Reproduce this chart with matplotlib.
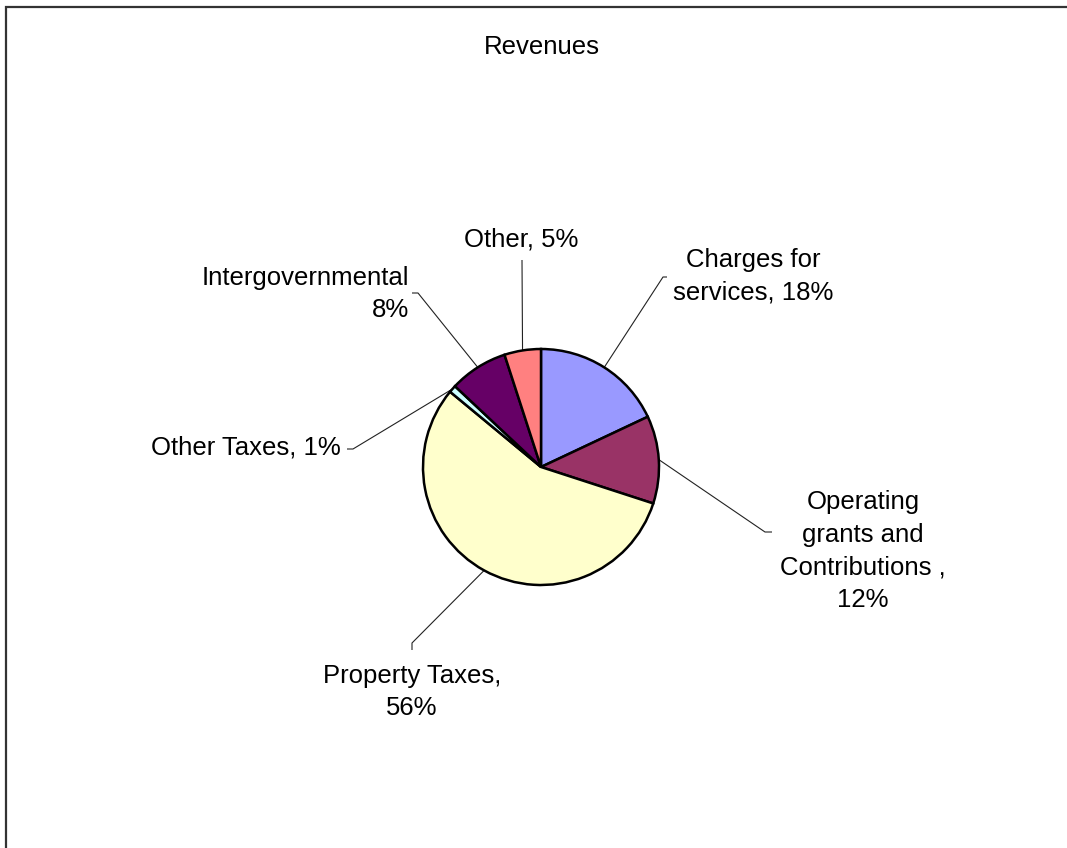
import matplotlib
matplotlib.use('Agg')
import matplotlib.pyplot as plt
import numpy as np
from matplotlib.patches import Rectangle

W, H = 1067, 848

# revenue shares, clockwise from 12 o'clock
categories = ["Charges for services", "Operating grants and Contributions",
              "Property Taxes", "Other Taxes", "Intergovernmental", "Other"]
shares = [18, 12, 56, 1, 8, 5]
label_fmt = ["Charges for\nservices, {}%",
             "Operating\ngrants and\nContributions ,\n{}%",
             "Property Taxes,\n{}%",
             "Other Taxes, {}%",
             "Intergovernmental\n{}%",
             "Other, {}%"]
colors = ["#9999FF", "#993366", "#FFFFCC", "#CCFFFF", "#660066", "#FF8080"]

# label placement in pixels (x, y from top), leader elbow and tick end
label_pos = [(753, 276), (863, 551), (412, 692), (341, 448), (409, 294), (521, 239)]
label_ha = ["center", "center", "center", "right", "right", "center"]
elbow = [(663, 277), (765, 532), (412, 643), (353, 449), (418, 293), (522, 260)]
tick_end = [(667, 277), (772, 532), (412, 650), (347, 449), (412, 293), (522, 260)]

CX, CY, R = 541, 467, 118

plt.rcParams['font.family'] = ['Liberation Sans', 'DejaVu Sans']

fig = plt.figure(figsize=(W / 100, H / 100), dpi=100)
ax = fig.add_axes([0, 0, 1, 1])

ax.pie(shares, colors=colors, startangle=90, counterclock=False,
       center=(CX, H - CY), radius=R,
       wedgeprops=dict(edgecolor='black', linewidth=1.8))
ax.set_xlim(0, W)
ax.set_ylim(0, H)
ax.set_aspect('equal')
ax.axis('off')

# leader lines from each wedge's mid angle
total = float(sum(shares))
start = 90.0
for i, v in enumerate(shares):
    sweep = 360.0 * v / total
    mid = np.deg2rad(start - sweep / 2)
    start -= sweep
    x0 = CX + R * np.cos(mid)
    y0 = (H - CY) + R * np.sin(mid)
    ex, ey = elbow[i]
    tx, ty = tick_end[i]
    ax.plot([x0, ex, tx], [y0, H - ey, H - ty], color='#222222', lw=0.8,
            solid_capstyle='butt', zorder=0)
    lx, ly = label_pos[i]
    ax.text(lx, H - ly, label_fmt[i].format(v), ha=label_ha[i], va='center',
            multialignment=label_ha[i], fontsize=18.5, linespacing=1.47,
            color='black')

ax.text(542, H - 47, "Revenues", ha='center', va='center', fontsize=18.5)

# chart area border
ax.add_patch(Rectangle((5.5, -20), W + 20, H - 7 + 20, fill=False,
                       edgecolor='#333333', lw=1.6, clip_on=False))

fig.savefig('out.png', dpi=100, facecolor='white')
